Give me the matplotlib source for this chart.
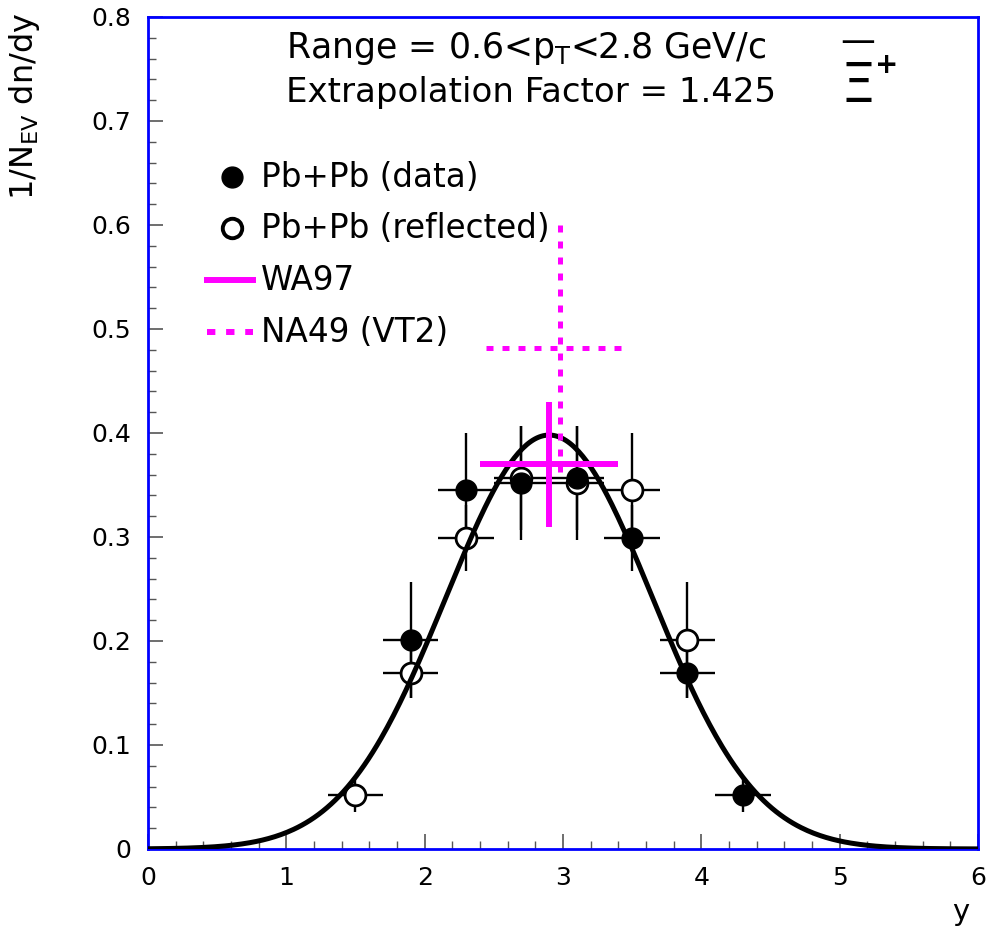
import numpy as np
import matplotlib
matplotlib.use('Agg')
import matplotlib.pyplot as plt
from matplotlib.ticker import MultipleLocator, FuncFormatter

plt.rcParams['font.family'] = 'DejaVu Sans'
plt.rcParams['mathtext.fontset'] = 'dejavusans'

# Pb+Pb measured points
y_data = [1.9, 2.3, 2.7, 3.1, 3.5, 3.9, 4.3]
dndy_data = [0.201, 0.345, 0.352, 0.357, 0.299, 0.169, 0.052]
err_data = [0.056, 0.055, 0.055, 0.050, 0.032, 0.024, 0.016]
bin_half = 0.2

# reflected about mid-rapidity
y_mid = 2.9
y_refl = [1.5, 1.9, 2.3, 2.7, 3.1, 3.5, 3.9]
dndy_refl = [0.052, 0.169, 0.299, 0.357, 0.352, 0.345, 0.201]
err_refl = [0.016, 0.024, 0.032, 0.050, 0.055, 0.055, 0.056]

# gaussian fit
fit_amp = 0.398
fit_mean = 2.9
fit_sigma = 0.748

# other experiments
wa97_y, wa97_dy, wa97_val, wa97_err = 2.9, 0.5, 0.37, 0.06
na49_y, na49_dy_lo, na49_dy_hi, na49_val, na49_err = 2.98, 0.54, 0.45, 0.482, 0.12

fig = plt.figure(figsize=(9.91, 9.43), dpi=100)
ax = fig.add_axes([0.1493, 0.0997, 0.8376, 0.8823])

ax.errorbar(y_refl, dndy_refl, xerr=bin_half, yerr=err_refl, fmt='none',
            ecolor='black', elinewidth=1.7, capsize=0, zorder=2)
ax.errorbar(y_data, dndy_data, xerr=bin_half, yerr=err_data, fmt='none',
            ecolor='black', elinewidth=1.7, capsize=0, zorder=2)
ax.plot(y_refl, dndy_refl, 'o', ms=15, mfc='white', mec='black', mew=2.0,
        ls='none', zorder=3)

yy = np.linspace(0, 6, 400)
ax.plot(yy, fit_amp * np.exp(-0.5 * ((yy - fit_mean) / fit_sigma) ** 2),
        color='black', lw=3.6, zorder=4)

ax.plot(y_data, dndy_data, 'o', ms=15, mfc='black', mec='black',
        ls='none', zorder=5)

ax.errorbar(wa97_y, wa97_val, xerr=wa97_dy, yerr=wa97_err, fmt='none',
            ecolor='#ff00ff', elinewidth=4.3, capsize=0, zorder=6)
na = ax.errorbar(na49_y, na49_val, xerr=[[na49_dy_lo], [na49_dy_hi]],
                 yerr=na49_err, fmt='none', ecolor='#ff00ff',
                 elinewidth=3.6, capsize=0, zorder=6)
for lc in na[2]:
    lc.set_linestyle((0, (1.4, 1.8)))

# legend drawn by hand, ROOT style
ax.plot([0.607], [0.646], 'o', ms=15, color='black')
ax.plot([0.607], [0.597], 'o', ms=14, mfc='white', mec='black', mew=2.8)
ax.plot([0.43, 0.76], [0.547, 0.547], color='#ff00ff', lw=4.3)
ax.plot([0.43, 0.76], [0.497, 0.497], color='#ff00ff', lw=4.3,
        ls=(0, (1.4, 1.8)))
leg_txt = ['Pb+Pb (data)', 'Pb+Pb (reflected)', 'WA97', 'NA49 (VT2)']
for i, t in enumerate(leg_txt):
    ax.text(0.82, 0.646 - 0.0497 * i, t, fontsize=23.5, va='center', ha='left')

ax.text(1.0, 0.770, r'Range = 0.6<p$_{\mathrm{T}}$<2.8 GeV/c', fontsize=25,
        va='center')
ax.text(1.0, 0.727, 'Extrapolation Factor = 1.425', fontsize=24.5, va='center')

# anti-Xi label: bar, Xi and charge as separate pieces
ax.text(5.13, 0.7755, '\u2014', fontsize=25, ha='center', va='center')
ax.text(5.13, 0.7385, '\u039e', fontsize=40, ha='center', va='center_baseline')
ax.text(5.34, 0.754, '+', fontsize=20, ha='center', va='center',
        fontweight='bold')

ax.set_xlim(0, 6)
ax.set_ylim(0, 0.8)
ax.xaxis.set_major_locator(MultipleLocator(1))
ax.xaxis.set_minor_locator(MultipleLocator(0.2))
ax.yaxis.set_major_locator(MultipleLocator(0.1))
ax.yaxis.set_minor_locator(MultipleLocator(0.02))
ax.xaxis.set_major_formatter(FuncFormatter(lambda v, p: '%g' % round(v, 3)))
ax.yaxis.set_major_formatter(FuncFormatter(lambda v, p: '%g' % round(v, 3)))
ax.tick_params(which='both', direction='in', top=False, right=False,
               labelsize=18, color='#555555', pad=12)
ax.tick_params(which='major', length=11, width=1.2)
ax.tick_params(which='minor', length=6, width=1.0)
for sp in ax.spines.values():
    sp.set_color('blue')
    sp.set_linewidth(2)

fig.text(0.025, 0.987, r'1/N$_{\mathrm{EV}}$ dn/dy', rotation=90, fontsize=23,
         ha='center', va='top')
fig.text(0.978, 0.018, 'y', fontsize=21, ha='right', va='bottom')

fig.savefig('out.png', dpi=100)
